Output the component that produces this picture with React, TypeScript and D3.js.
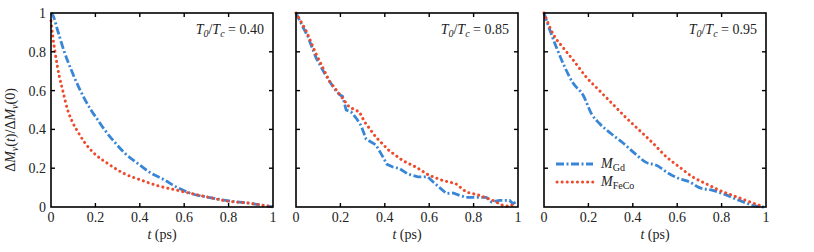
import React from "react";
import * as d3 from "d3";

const gdT1 = [0, 0.008, 0.03, 0.06, 0.09, 0.128, 0.15, 0.18, 0.21, 0.24, 0.29, 0.33, 0.39, 0.45, 0.51, 0.57, 0.63, 0.71, 0.8, 0.89, 1];
const gdV1 = [1, 0.99, 0.91, 0.8, 0.71, 0.61, 0.56, 0.5, 0.45, 0.4, 0.33, 0.28, 0.225, 0.175, 0.14, 0.1, 0.07, 0.05, 0.032, 0.02, 0];
const fcT1 = [0, 0.008, 0.018, 0.038, 0.053, 0.075, 0.1, 0.125, 0.15, 0.196, 0.257, 0.33, 0.41, 0.48, 0.57, 0.63, 0.71, 0.8, 0.89, 1];
const fcV1 = [0.96, 0.88, 0.8, 0.67, 0.6, 0.5, 0.43, 0.38, 0.335, 0.275, 0.223, 0.172, 0.137, 0.11, 0.086, 0.07, 0.05, 0.03, 0.02, 0];

const gdT2 = [0, 0.03, 0.053, 0.09, 0.128, 0.15, 0.173, 0.195, 0.21, 0.226, 0.248, 0.27, 0.293, 0.316, 0.338, 0.36, 0.383, 0.41, 0.436, 0.466, 0.504, 0.549, 0.594, 0.617, 0.647, 0.677, 0.707, 0.737, 0.767, 0.8, 0.857, 0.88, 0.917, 0.962, 0.977, 0.99];
const gdV2 = [1, 0.93, 0.88, 0.77, 0.69, 0.65, 0.61, 0.58, 0.57, 0.5, 0.49, 0.46, 0.42, 0.35, 0.335, 0.32, 0.275, 0.22, 0.206, 0.198, 0.17, 0.155, 0.155, 0.13, 0.1, 0.07, 0.072, 0.06, 0.05, 0.05, 0.05, 0.026, 0.034, 0.034, 0.017, 0.026];
const fcT2 = [0, 0.045, 0.09, 0.15, 0.21, 0.24, 0.286, 0.308, 0.36, 0.42, 0.48, 0.54, 0.6, 0.66, 0.72, 0.767, 0.827, 0.887, 0.93, 0.96, 0.99];
const fcV2 = [1, 0.91, 0.79, 0.65, 0.56, 0.515, 0.49, 0.44, 0.36, 0.29, 0.24, 0.206, 0.163, 0.137, 0.12, 0.077, 0.06, 0.034, 0.009, 0.003, 0.02];

const gdT3 = [0, 0.027, 0.057, 0.094, 0.13, 0.177, 0.214, 0.25, 0.3, 0.356, 0.41, 0.46, 0.506, 0.566, 0.61, 0.656, 0.7, 0.76, 0.805, 0.88, 0.94, 0.99];
const gdV3 = [1, 0.91, 0.82, 0.72, 0.64, 0.575, 0.48, 0.43, 0.38, 0.33, 0.275, 0.23, 0.215, 0.17, 0.146, 0.129, 0.1, 0.086, 0.069, 0.034, 0.009, 0];
const fcT3 = [0, 0.042, 0.087, 0.13, 0.19, 0.25, 0.31, 0.37, 0.43, 0.49, 0.55, 0.61, 0.67, 0.73, 0.79, 0.85, 0.91, 0.97, 0.99];
const fcV3 = [1, 0.89, 0.82, 0.76, 0.67, 0.6, 0.53, 0.46, 0.395, 0.33, 0.26, 0.206, 0.155, 0.12, 0.086, 0.06, 0.034, 0.009, 0.003];

const ratios = ["0.40", "0.85", "0.95"];
const ticks = [0, 0.2, 0.4, 0.6, 0.8, 1];
const tickLabels = ["0", "0.2", "0.4", "0.6", "0.8", "1"];

const panels = [
  { gd: [gdT1, gdV1], fc: [fcT1, fcV1], left: 51, ratio: ratios[0] },
  { gd: [gdT2, gdV2], fc: [fcT2, fcV2], left: 296, ratio: ratios[1] },
  { gd: [gdT3, gdV3], fc: [fcT3, fcV3], left: 544, ratio: ratios[2] },
];

const BLUE = "#3a86d6";
const RED = "#ee4a2c";
const FONT = "'Liberation Serif', 'Times New Roman', serif";
const TXT = "#222";

export default function App() {
  const W = 222;
  const top = 13;
  const bottom = 207;
  const y = d3.scaleLinear().domain([0, 1]).range([bottom, top]);
  const tl = 4;
  return (
    <svg width={814} height={252} style={{ position: "absolute", left: 0, top: 0, background: "#fff" }} fontFamily={FONT}>
      {panels.map((p, pi) => {
        const x = d3.scaleLinear().domain([0, 1]).range([p.left, p.left + W]);
        const mk = (ts: number[], vs: number[]) =>
          d3.line<number>().x((t) => x(t)).y((_, i) => y(vs[i])).curve(pi === 1 ? d3.curveLinear : d3.curveMonotoneX)(ts) || "";
        return (
          <g key={pi}>
            <path d={mk(p.gd[0], p.gd[1])} fill="none" stroke={BLUE} strokeWidth={2.8} strokeDasharray="8 2.5 2 2.5" />
            <path d={mk(p.fc[0], p.fc[1])} fill="none" stroke={RED} strokeWidth={3} strokeLinecap="round" strokeDasharray="0.1 5" />
            <rect x={p.left} y={top} width={W} height={bottom - top} fill="none" stroke="#000" strokeWidth={1.6} />
            {ticks.slice(1, -1).map((t) => (
              <g key={t} stroke="#000" strokeWidth={1.4}>
                <line x1={x(t)} x2={x(t)} y1={bottom} y2={bottom - tl} />
                <line x1={x(t)} x2={x(t)} y1={top} y2={top + tl} />
                <line x1={p.left} x2={p.left + tl} y1={y(t)} y2={y(t)} />
                <line x1={p.left + W} x2={p.left + W - tl} y1={y(t)} y2={y(t)} />
              </g>
            ))}
            {ticks.map((t, i) => (
              <text key={t} x={x(t)} y={222} fontSize={14} textAnchor="middle" fill={TXT}>
                {tickLabels[i]}
              </text>
            ))}
            <text x={p.left + W / 2} y={239} fontSize={14} textAnchor="middle" fill={TXT}>
              <tspan fontStyle="italic">t</tspan> (ps)
            </text>
            <text x={p.left + W - 9} y={34} fontSize={14} textAnchor="end" fill={TXT}>
              <tspan fontStyle="italic">T</tspan>
              <tspan fontStyle="italic" fontSize={10} dy={3}>0</tspan>
              <tspan dy={-3}>/</tspan>
              <tspan fontStyle="italic">T</tspan>
              <tspan fontStyle="italic" fontSize={10} dy={3}>c</tspan>
              <tspan dy={-3}> = {p.ratio}</tspan>
            </text>
            {pi === 0 &&
              ticks.map((t, i) => (
                <text key={"y" + t} x={46} y={y(t) + 5} fontSize={14} textAnchor="end" fill={TXT}>
                  {tickLabels[i]}
                </text>
              ))}
          </g>
        );
      })}
      <text transform="translate(15,130) rotate(-90)" fontSize={14} textAnchor="middle" fill={TXT}>
        Δ<tspan fontStyle="italic">M</tspan>
        <tspan fontStyle="italic" fontSize={10} dy={3}>ν</tspan>
        <tspan dy={-3}>(</tspan>
        <tspan fontStyle="italic">t</tspan>
        <tspan>)/Δ</tspan>
        <tspan fontStyle="italic">M</tspan>
        <tspan fontStyle="italic" fontSize={10} dy={3}>ν</tspan>
        <tspan dy={-3}>(0)</tspan>
      </text>
      <g>
        <line x1={556} x2={593} y1={164} y2={164} stroke={BLUE} strokeWidth={2.8} strokeDasharray="8 2.5 2 2.5" />
        <line x1={557} x2={593} y1={182} y2={182} stroke={RED} strokeWidth={3} strokeLinecap="round" strokeDasharray="0.1 5" />
        <text x={601} y={168} fontSize={14} fill={TXT}>
          <tspan fontStyle="italic">M</tspan>
          <tspan fontSize={10} dy={3}>Gd</tspan>
        </text>
        <text x={601} y={186} fontSize={14} fill={TXT}>
          <tspan fontStyle="italic">M</tspan>
          <tspan fontSize={10} dy={3}>FeCo</tspan>
        </text>
      </g>
    </svg>
  );
}
